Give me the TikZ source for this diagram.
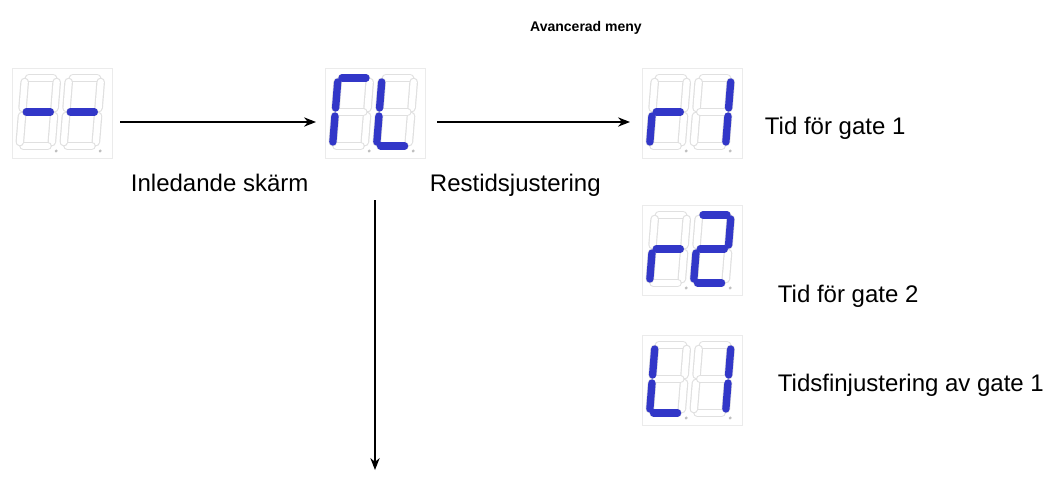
\documentclass[tikz,border=0pt]{standalone}
\usepackage{fontspec}
\setmainfont{Liberation Sans}
\usetikzlibrary{arrows.meta}
\tikzset{every picture/.style={line width=0.75pt}}
\tikzset{
  seg off/.style={line width=6.5pt, color=black!12, line cap=round},
  seg in/.style={line width=4.7pt, color=white, line cap=round},
  seg on/.style={line width=5.5pt, color={rgb,255:red,50;green,55;blue,200}, line cap=round},
  dispbox/.style={draw=black!8, line width=0.6pt},
  lbl/.style={font=\fontsize{18}{21}\selectfont, anchor=west},
  flow/.style={-{Stealth[length=9pt,width=7pt]}, line width=0.9pt}
}
% segment end points (pixels, y down) relative to the digit origin
\def\segA{(4,0) -- (28,0)}
\def\segB{(32,4) -- (32,30)}
\def\segC{(32,38) -- (32,64)}
\def\segD{(4,68) -- (28,68)}
\def\segE{(0,38) -- (0,64)}
\def\segF{(0,4) -- (0,30)}
\def\segG{(4,34) -- (28,34)}
% \sdigit{x}{y}{list of lit segments}
\newcommand{\sdigit}[3]{%
  \begin{scope}[shift={(#1,#2)}, xslant=-0.08]
    \foreach \s in {A,B,C,D,E,F,G}{\draw[seg off] \csname seg\s\endcsname; \draw[seg in] \csname seg\s\endcsname;}
    \foreach \s in {#3}{\draw[seg on] \csname seg\s\endcsname;}
    \fill[black!25] (37,73) circle (1.6);
  \end{scope}}
% \sdisplay{name}{x}{y}{left digit}{right digit}
\newcommand{\sdisplay}[5]{%
  \draw[dispbox] (#2,#3) rectangle ++(100,90);
  \coordinate (#1) at (#2+50,#3+45);
  \sdigit{#2+13}{#3+10}{#4}
  \sdigit{#2+57}{#3+10}{#5}}

\begin{document}
\begin{tikzpicture}[x=0.75pt,y=0.75pt,yscale=-1,xscale=1]
\useasboundingbox (0,0) rectangle (1060,476);

%Title
\node[font=\bfseries\fontsize{10.5}{13}\selectfont] (title) at (586,28) {Avancerad meny};

%Displays
\sdisplay{init}{12}{68}{G}{G}
\sdisplay{rest}{325}{68}{A,E,F}{D,E,F}
\sdisplay{gate1}{642}{68}{E,G}{B,C}
\sdisplay{gate2}{642}{205}{E,G}{A,B,G,E,D}
\sdisplay{fine}{642}{335}{D,E,F}{B,C}

%Connectors
\coordinate (a1s) at (120,122);
\coordinate (a1e) at (316,122);
\coordinate (a2s) at (437,122);
\coordinate (a2e) at (630,122);
\coordinate (a3s) at (375,200);
\coordinate (a3e) at (375,470);
\draw[flow] (a1s) -- (a1e);
\draw[flow] (a2s) -- (a2e);
\draw[flow] (a3s) -- (a3e);

%Labels
\node[lbl] (linit) at (126,183) {Inledande skärm};
\node[lbl] (lrest) at (425,185) {Restidsjustering};
\node[lbl] (lgate1) at (760,128) {Tid för gate 1};
\node[lbl] (lgate2) at (773,296) {Tid för gate 2};
\node[lbl] (lfine) at (773,385) {Tidsfinjustering av gate 1};
\end{tikzpicture}
\end{document}
